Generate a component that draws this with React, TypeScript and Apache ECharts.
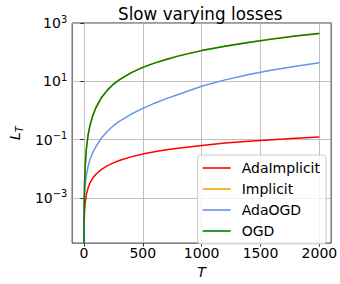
import React, { useEffect, useRef } from 'react';
import * as echarts from 'echarts';

// Horizon T (x values)
const T = [0, 1, 2, 5, 10, 20, 35, 50, 75, 100, 150, 200, 250, 300, 400, 500, 600, 700, 800, 1000, 1200, 1400, 1600, 1800, 2000];

// Cumulative losses L_T (the value at T = 0 is 0; a log axis cannot show 0,
// so it is stored as a tiny positive number that falls below the axis and is clipped)
const ZERO = 1e-9;
const adaImplicit = [ZERO, 6.4e-5, 1.28e-4, 3.2e-4, 6.4e-4, 0.00127, 0.0022, 0.0032, 0.0048, 0.0064, 0.0096, 0.0128, 0.016, 0.0192, 0.0256, 0.032, 0.0385, 0.0448, 0.051, 0.0635, 0.076, 0.088, 0.1, 0.112, 0.124];
const implicit = [ZERO, 1.12e-4, 4.5e-4, 0.00285, 0.0112, 0.046, 0.143, 0.296, 0.673, 1.22, 2.86, 5.1, 8.06, 11.4, 19.9, 30.6, 42.8, 57.1, 74.5, 115, 163, 220, 286, 362, 449];
const adaOGD = [ZERO, 3e-4, 5.5e-4, 0.0013, 0.0027, 0.0058, 0.012, 0.02, 0.036, 0.056, 0.115, 0.195, 0.3, 0.42, 0.74, 1.18, 1.78, 2.55, 3.55, 6.8, 11.2, 17, 24.5, 33, 43];
const ogd = [ZERO, 1.1e-4, 4.4e-4, 0.0028, 0.011, 0.045, 0.14, 0.29, 0.66, 1.2, 2.8, 5.0, 7.9, 11.2, 19.5, 30, 42, 56, 73, 113, 160, 216, 280, 355, 440];

const xTicks = [0, 500, 1000, 1500, 2000];
const yTicks = [1e-3, 1e-1, 1e1, 1e3];

const seriesNames = ['AdaImplicit', 'Implicit', 'AdaOGD', 'OGD'];
const seriesValues = [adaImplicit, implicit, adaOGD, ogd];
const seriesColors = ['#ff0000', '#ffa500', '#6495ed', '#008000'];

const FONT = 'DejaVu Sans';

export default function App() {
  const ref = useRef<HTMLDivElement>(null);
  useEffect(() => {
    const chart = echarts.init(ref.current!, undefined, { renderer: 'svg' });
    const option: any = {
      animation: false,
      backgroundColor: '#ffffff',
      title: {
        text: 'Slow varying losses',
        left: 118,
        top: 5,
        padding: 0,
        textStyle: { fontFamily: FONT, fontSize: 16.8, fontWeight: 'normal', color: '#000', lineHeight: 17 },
      },
      legend: {
        data: seriesNames,
        orient: 'vertical',
        right: 14,
        bottom: 40,
        icon: 'rect',
        itemWidth: 28,
        itemHeight: 1.6,
        itemGap: 7,
        padding: [6, 6, 6, 5],
        backgroundColor: 'rgba(255,255,255,0.8)',
        borderColor: '#cccccc',
        borderWidth: 1,
        borderRadius: 3,
        textStyle: { fontFamily: FONT, fontSize: 14, color: '#000', lineHeight: 14, padding: [0, 0, 0, 6] },
      },
      grid: {
        left: 68,
        right: 7,
        top: 23,
        bottom: 33,
        show: true,
        borderColor: '#000',
        borderWidth: 0.8,
        backgroundColor: 'transparent',
      },
      xAxis: {
        type: 'value',
        min: -100,
        max: 2100,
        name: 'T',
        nameLocation: 'middle',
        nameGap: 19,
        nameTextStyle: { fontFamily: FONT, fontStyle: 'italic', fontSize: 14, color: '#000', lineHeight: 14 },
        axisLine: { show: false },
        axisTick: { show: true, length: 3.5, customValues: xTicks, lineStyle: { color: '#000', width: 0.8 } },
        axisLabel: {
          customValues: xTicks,
          margin: 3,
          formatter: (v: number) => String(Math.round(v)),
          fontFamily: FONT,
          fontSize: 14,
          lineHeight: 14,
          color: '#000',
        },
        splitLine: { show: true, lineStyle: { color: '#b0b0b0', width: 0.8 } },
      },
      yAxis: {
        type: 'log',
        logBase: 10,
        min: 2.83e-5,
        max: 1000,
        name: '{l|L}{t|T}',
        nameLocation: 'middle',
        nameGap: 40,
        nameTextStyle: {
          rich: {
            l: { fontFamily: FONT, fontStyle: 'italic', fontSize: 14, color: '#000', lineHeight: 18 },
            t: { fontFamily: FONT, fontStyle: 'italic', fontSize: 9.8, color: '#000', lineHeight: 10, verticalAlign: 'bottom' },
          },
        },
        axisLine: { show: false },
        axisTick: { show: true, length: 3.5, customValues: yTicks, lineStyle: { color: '#000', width: 0.8 } },
        axisLabel: {
          customValues: yTicks,
          margin: 5,
          formatter: (v: number) => {
            const e = Math.round(Math.log10(v));
            const s = e < 0 ? '\u2212' + Math.abs(e) : String(e);
            return '{b|10}{s|' + s + '}';
          },
          rich: {
            b: { fontFamily: FONT, fontSize: 14, color: '#000', lineHeight: 18 },
            s: { fontFamily: FONT, fontSize: 9.8, color: '#000', lineHeight: 10, verticalAlign: 'top' },
          },
        },
        splitLine: { show: true, lineStyle: { color: '#b0b0b0', width: 0.8 } },
        minorTick: { show: false },
      },
      series: seriesNames.map((name, i) => ({
        name,
        type: 'line',
        data: T.map((t, j) => [t, seriesValues[i][j]]),
        showSymbol: false,
        symbol: 'none',
        clip: true,
        color: seriesColors[i],
        lineStyle: { color: seriesColors[i], width: 1.5 },
        itemStyle: { color: seriesColors[i] },
        z: 2 + i,
      })),
    };
    chart.setOption(option);
    return () => chart.dispose();
  }, []);
  return (
    <div
      ref={ref}
      style={{ position: 'absolute', left: 0, top: 0, width: 340, height: 284, background: '#fff' }}
    />
  );
}
